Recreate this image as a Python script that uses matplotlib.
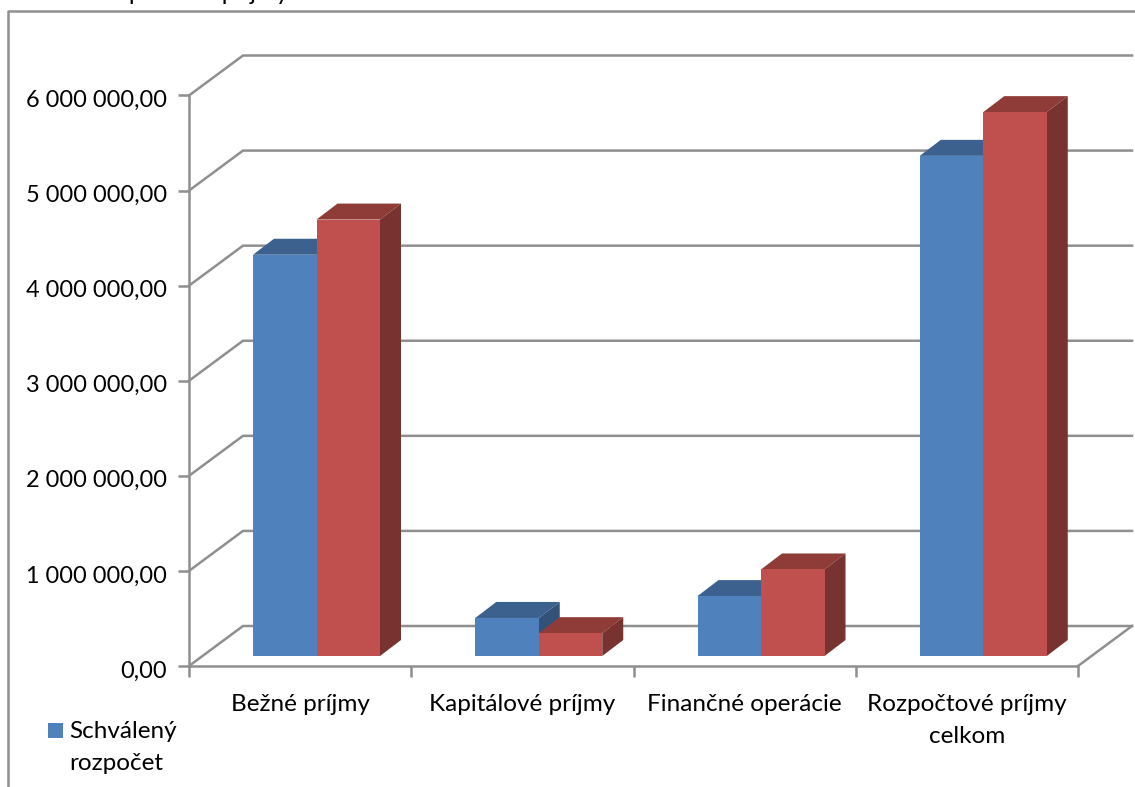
import numpy as np
import matplotlib

matplotlib.use("Agg")
import matplotlib.pyplot as plt
from matplotlib.patches import Polygon, Rectangle
from matplotlib.transforms import ScaledTranslation

categories = ["Bežné príjmy", "Kapitálové príjmy", "Finančné operácie", "Rozpočtové príjmy\ncelkom"]
schvaleny = [4220000, 400000, 630000, 5260000]
upraveny = [4590000, 240000, 910000, 5720000]
y_ticks = [0, 1000000, 2000000, 3000000, 4000000, 5000000, 6000000]
y_labels = ["0,00", "1 000 000,00", "2 000 000,00", "3 000 000,00",
            "4 000 000,00", "5 000 000,00", "6 000 000,00"]

W, H = 1135, 787
GRID = "#8f8f8f"
BLUE = ("#4f81bd", "#3c618e", "#33527a")
RED = ("#c0504d", "#8f3c39", "#783230")

plt.rcParams["font.family"] = ["Lato", "DejaVu Sans"]

fig = plt.figure(figsize=(W / 100, H / 100), dpi=100)

# plot box in pixels: x 189..1078, y 666..95.5
ax = fig.add_axes([189 / W, 1 - 666 / H, (1078 - 189) / W, (666 - 95.5) / H])
ax.set_xlim(0, 4)
ax.set_ylim(0, 6000000)
for s in ax.spines.values():
    s.set_visible(False)

px_x = 4 / (1078 - 189)
px_y = 6000000 / (666 - 95.5)
depth_x, depth_y = 54 * px_x, 40 * px_y

# back wall gridlines
for v in y_ticks:
    ax.plot([0, depth_x, 4 + depth_x], [v, v + depth_y, v + depth_y], color=GRID, lw=1.8,
            clip_on=False, solid_joinstyle="miter", zorder=1)
# floor
ax.plot([4, 4 + depth_x], [0, depth_y], color=GRID, lw=1.8, clip_on=False, zorder=1)
ax.plot([0, 0], [0, 6000000], color=GRID, lw=1.8, clip_on=False, zorder=2)
ax.plot([0, 4], [0, 0], color=GRID, lw=1.8, clip_on=False, zorder=2)

# bars
bar_w = 63.5 * px_x
bar_dx, bar_dy = 21 * px_x, 16 * px_y
base = 10 * px_y
off = 64 * px_x


def box(x, v, cols, z):
    top = base + v
    ax.add_patch(Polygon([(x, top), (x + bar_dx, top + bar_dy), (x + bar_w + bar_dx, top + bar_dy), (x + bar_w, top)],
                         fc=cols[1], ec="none", zorder=z, clip_on=False))
    ax.add_patch(Polygon([(x + bar_w, base), (x + bar_w + bar_dx, base + bar_dy),
                          (x + bar_w + bar_dx, top + bar_dy), (x + bar_w, top)],
                         fc=cols[2], ec="none", zorder=z, clip_on=False))
    ax.add_patch(Rectangle((x, base), bar_w, v, fc=cols[0], ec="none", zorder=z + 0.5, clip_on=False))


for i in range(len(categories)):
    box(i + off, schvaleny[i], BLUE, 3)
    box(i + off + bar_w, upraveny[i], RED, 4)

ax.set_xticks(range(5))
ax.set_xticklabels([])
ax.set_yticks(y_ticks)
ax.set_yticklabels(y_labels, fontsize=16.9, color="black")
ax.tick_params(axis="both", color=GRID, width=1.8, length=8)
ax.tick_params(axis="y", pad=8)
shift = ScaledTranslation(0, -3 / 100, fig.dpi_scale_trans)
for t in ax.get_yticklabels():
    t.set_transform(t.get_transform() + shift)
for i, c in enumerate(categories):
    ax.text(i + 0.5, -0.0495 * 6000000, c, ha="center", va="top", fontsize=17.5,
            linespacing=1.65, clip_on=False)

# outer frame, cut by the picture on the right and at the bottom
fig.add_artist(plt.Line2D([8 / W, 8 / W, 1], [0, 1 - 11 / H, 1 - 11 / H], color=GRID, lw=1.8))

# legend, cut off: only first entry shows
fig.patches.append(Rectangle((48 / W, 1 - 738 / H), 15 / W, 15 / H, transform=fig.transFigure, fc=BLUE[0], ec="none"))
fig.text(69 / W, 1 - 731 / H, "Schválený", fontsize=17.5, va="center")
fig.text(69 / W, 1 - 763 / H, "rozpočet", fontsize=17.5, va="center")

# chart heading, cut by the top edge
fig.text(15 / W, 1 - 0 / H, "Graf 1 Rozpočtové príjmy", fontsize=17.5, va="baseline")

fig.savefig("out.png", dpi=100)
